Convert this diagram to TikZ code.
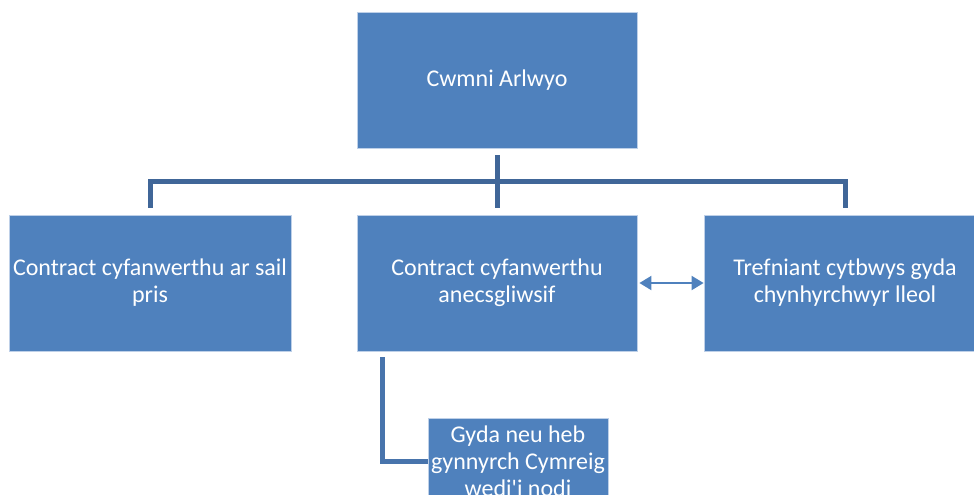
\documentclass[tikz,border=0pt]{standalone}
\usepackage{fontspec}
\setmainfont{Carlito}
\usetikzlibrary{calc}
\usetikzlibrary{positioning}
\usetikzlibrary{arrows.meta}
\definecolor{boxblue}{RGB}{79,129,189}
\definecolor{edgeblue}{RGB}{190,208,232}
\definecolor{busblue}{RGB}{64,102,152}
\definecolor{elbowblue}{RGB}{72,116,172}

\begin{document}
\begin{tikzpicture}[x=0.5pt,y=-0.5pt,node distance=101.5pt,on grid,>={Triangle[length=6pt,width=7pt]},
		unit/.style={rectangle,fill=boxblue,draw=edgeblue,line width=0.4pt,text=white,align=center,
			font=\fontsize{12}{13.5}\selectfont,inner sep=1pt,minimum width=140pt,minimum height=68pt},
		bus/.style={draw=busblue,line width=2.5pt,shorten <=3.5pt,shorten >=3.5pt}]
		\useasboundingbox (0,0) rectangle (974,494);
		\node[unit]  (top)  at (497,80)             {Cwmni Arlwyo};
		\node[unit]  (mid)  [below=of top]          {Contract cyfanwerthu\\anecsgliwsif};
		\node[unit,minimum width=141pt]  (lft)  [left=173.5pt of mid]   {Contract cyfanwerthu ar sail\\pris};
		\node[unit,minimum width=141pt]  (rgt)  [right=174pt of mid]    {Trefniant cytbwys gyda\\chynhyrchwyr lleol};
		\node[unit,minimum width=90pt,minimum height=43pt] (low) [below=89pt of mid, xshift=10.5pt] {Gyda neu heb\\gynnyrch Cymreig\\wedi\textquotesingle i nodi};
		
		\coordinate (bus) at ($(top.south)!0.5!(mid.north)$);
		
		\draw[bus] (top.south) -- (mid.north);
		\draw[bus] (lft.north) -- (lft.north |- bus) -- (rgt.north |- bus) -- (rgt.north);
		\draw[draw=elbowblue,line width=2.5pt,shorten <=3pt] ([xshift=13pt]mid.south west) |- (low.west);
		
		\path[<->,draw=boxblue,fill=boxblue,line width=1pt]
		(mid) edge[shorten <=1pt] (rgt);
		\end{tikzpicture}
\end{document}
